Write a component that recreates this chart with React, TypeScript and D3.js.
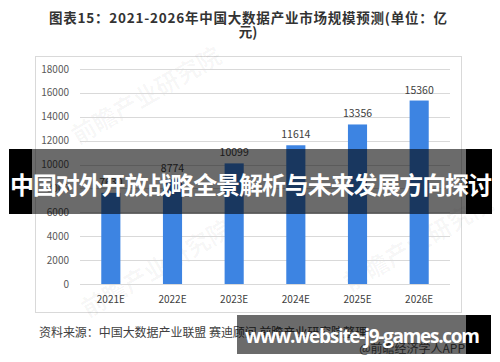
import React from 'react';
import * as d3 from 'd3';

// chart data
const years = ['2021E', '2022E', '2023E', '2024E', '2025E', '2026E'];
const marketSize = [7630, 8774, 10099, 11614, 13356, 15360];
const yTicks = [0, 2000, 4000, 6000, 8000, 10000, 12000, 14000, 16000, 18000];

const titleLines = ['图表15：2021-2026年中国大数据产业市场规模预测(单位：亿', '元)'];
const sourceText = '资料来源：中国大数据产业联盟 赛迪顾问 前瞻产业研究院整理';
const bannerText = '中国对外开放战略全景解析与未来发展方向探讨';
const siteText = 'www.website-j9-games.com';
const credit = '@前瞻经济学人APP';
const watermark = '前瞻产业研究院';

const FONT = '"Noto Sans CJK SC", "Noto Sans", sans-serif';

const App = () => {
  const width = 500;
  const height = 362;

  const x = d3.scaleBand<string>()
    .domain(years)
    .range([80, 450])
    .paddingInner(0.69)
    .paddingOuter(0.345);

  const y = d3.scaleLinear()
    .domain([0, 18000])
    .range([284, 69]);

  return (
    <svg width={width} height={height} style={{ position: 'absolute', left: 0, top: 0 }} fontFamily={FONT}>
      <rect width={width} height={height} fill="#fff" />

      {/* title */}
      {titleLines.map((t, i) => (
        <text key={i} x={248} y={23 + i * 14} textAnchor="middle" fontSize={13.5}
          fontWeight="bold" fill="#333" textLength={i === 0 ? 398 : undefined}>
          {t}
        </text>
      ))}

      {/* chart frame */}
      <rect x={35.5} y={56.5} width={426} height={256} fill="none" stroke="#d9d9d9" />

      {/* watermarks */}
      {[[78, 145], [88, 318], [350, 292]].map(([wx, wy], i) => (
        <text key={i} x={wx} y={wy} fontSize={24} fontWeight="bold" fill="#000" fillOpacity={0.035}
          transform={`rotate(-30 ${wx} ${wy})`}>{watermark}</text>
      ))}

      {/* grid + y axis */}
      {yTicks.map(t => (
        <g key={t}>
          <line x1={80} x2={450} y1={Math.round(y(t)) + 0.5} y2={Math.round(y(t)) + 0.5} stroke="#d9d9d9" />
          <text x={69} y={y(t) + 3.5} textAnchor="end" fontSize={10} fill="#595959">{t}</text>
        </g>
      ))}

      {/* bars */}
      {years.map((yr, i) => (
        <g key={yr}>
          <rect x={x(yr)} y={y(marketSize[i])} width={x.bandwidth()} height={y(0) - y(marketSize[i])} fill="#3d84e2" />
          <text x={x(yr)! + x.bandwidth() / 2} y={y(marketSize[i]) - 7} textAnchor="middle" fontSize={10.5} fill="#404040">
            {marketSize[i]}
          </text>
          <text x={x(yr)! + x.bandwidth() / 2} y={303} textAnchor="middle" fontSize={10} fill="#404040">{yr}</text>
        </g>
      ))}

      {/* source */}
      <text x={39} y={337} fontSize={12} fill="#404040" textLength={328}>{sourceText}</text>
      <text x={465} y={353} textAnchor="end" fontSize={12} fill="#555">{credit}</text>

      {/* middle banner */}
      <rect x={9} y={149} width={23} height={65} fill="#000" />
      <rect x={466} y={149} width={26} height={65} fill="#000" />
      <rect x={32} y={149} width={434} height={65} fill="#000" fillOpacity={0.58} />
      <text x={10} y={194} fontSize={24} fontWeight="bold" fill="#fff" textLength={482}>{bannerText}</text>

      {/* bottom banner */}
      <rect x={237} y={315} width={229} height={39} fill="#000" fillOpacity={0.58} />
      <rect x={466} y={315} width={25} height={39} fill="#000" />
      <text x={245} y={343} fontSize={19} fontWeight="bold" fill="#fff" textLength={235}
        fontFamily='"Open Sans", "DejaVu Sans", sans-serif'>{siteText}</text>
    </svg>
  );
};

export default App;
